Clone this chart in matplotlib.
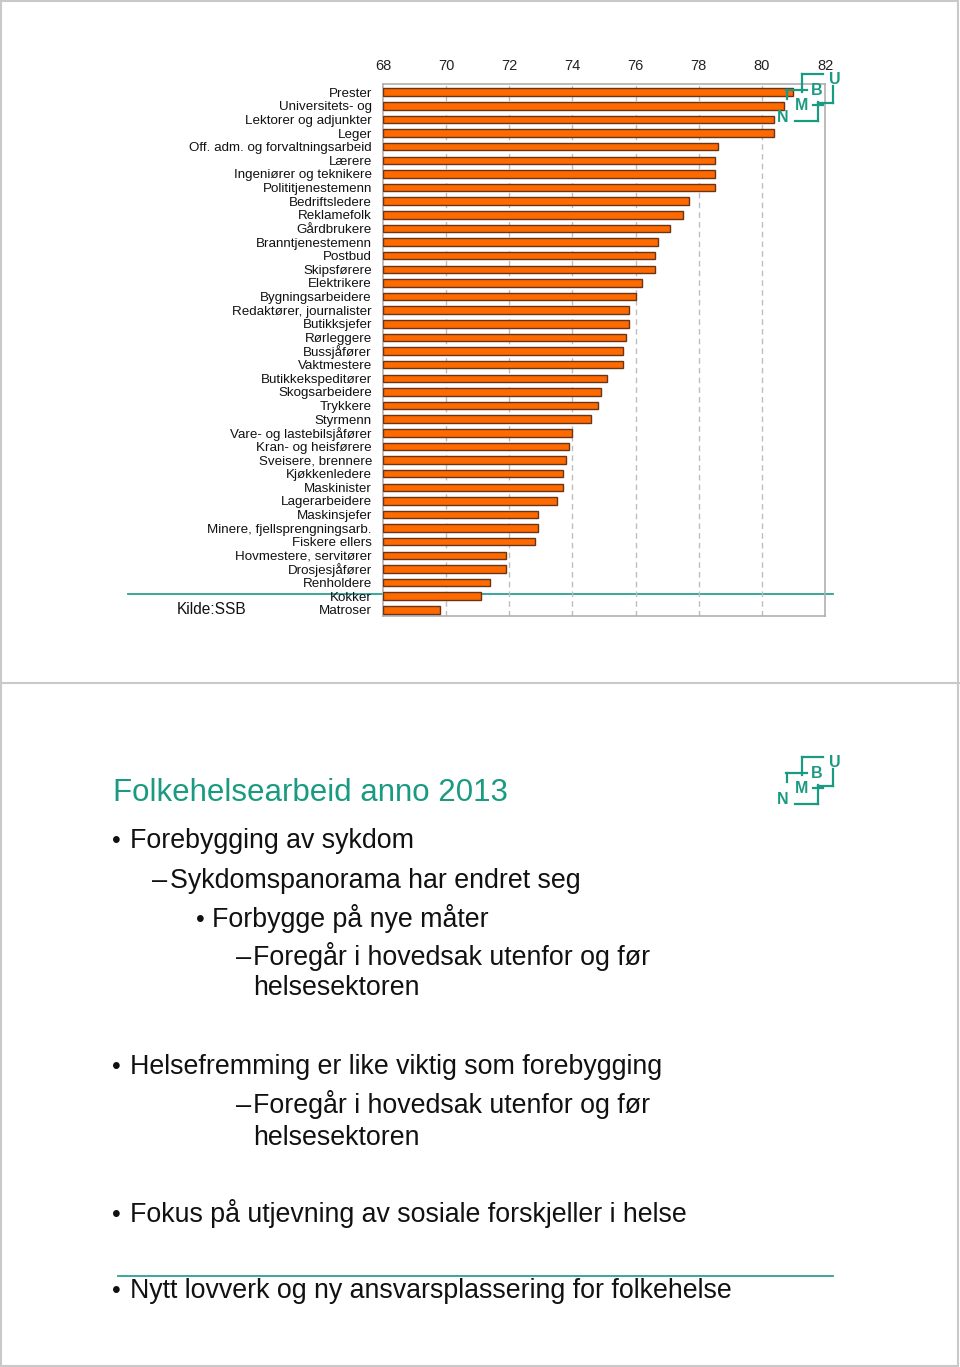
import matplotlib
matplotlib.use("Agg")
import matplotlib.pyplot as plt
from matplotlib.lines import Line2D
from matplotlib.patches import Rectangle

plt.rcParams['font.family'] = ['Liberation Sans', 'DejaVu Sans']

# ---------------- data ----------------
categories = [
    "Prester", "Universitets- og", "Lektorer og adjunkter", "Leger",
    "Off. adm. og forvaltningsarbeid", "Lærere", "Ingeniører og teknikere",
    "Polititjenestemenn", "Bedriftsledere", "Reklamefolk", "Gårdbrukere",
    "Branntjenestemenn", "Postbud", "Skipsførere", "Elektrikere",
    "Bygningsarbeidere", "Redaktører, journalister", "Butikksjefer",
    "Rørleggere", "Bussjåfører", "Vaktmestere", "Butikkekspeditører",
    "Skogsarbeidere", "Trykkere", "Styrmenn", "Vare- og lastebilsjåfører",
    "Kran- og heisførere", "Sveisere, brennere", "Kjøkkenledere",
    "Maskinister", "Lagerarbeidere", "Maskinsjefer",
    "Minere, fjellsprengningsarb.", "Fiskere ellers",
    "Hovmestere, servitører", "Drosjesjåfører", "Renholdere", "Kokker",
    "Matroser",
]
values = [
    81.0, 80.7, 80.4, 80.4, 78.6, 78.5, 78.5, 78.5, 77.7, 77.5, 77.1,
    76.7, 76.6, 76.6, 76.2, 76.0, 75.8, 75.8, 75.7, 75.6, 75.6, 75.1,
    74.9, 74.8, 74.6, 74.0, 73.9, 73.8, 73.7, 73.7, 73.5, 72.9, 72.9,
    72.8, 71.9, 71.9, 71.4, 71.1, 69.8,
]
x_ticks = [68, 70, 72, 74, 76, 78, 80, 82]
source_text = "Kilde:SSB"

slide_title = "Folkehelsearbeid anno 2013"
slide_lines = [  # (level, marker, text)
    (1, "•", "Forebygging av sykdom"),
    (2, "–", "Sykdomspanorama har endret seg"),
    (3, "•", "Forbygge på nye måter"),
    (4, "–", "Foregår i hovedsak utenfor og før"),
    (4, "", "helsesektoren"),
    (1, "•", "Helsefremming er like viktig som forebygging"),
    (4, "–", "Foregår i hovedsak utenfor og før"),
    (4, "", "helsesektoren"),
    (1, "•", "Fokus på utjevning av sosiale forskjeller i helse"),
    (1, "•", "Nytt lovverk og ny ansvarsplassering for folkehelse"),
]

# ---------------- figure ----------------
W, H = 960, 1367
fig = plt.figure(figsize=(W / 100, H / 100), dpi=100)
fig.patch.set_facecolor("white")

def fx(x):
    return x / W

def fy(y):
    return 1 - y / H

TEAL = "#1b9a82"
GRAY = "#c9c9c9"

# page borders and slide separator
fig.add_artist(Rectangle((fx(1), fy(1366)), fx(957), 1365 / H, transform=fig.transFigure,
                         fill=False, edgecolor=GRAY, lw=1.5, zorder=-5))
fig.add_artist(Line2D([fx(1), fx(959)], [fy(683), fy(683)], transform=fig.transFigure,
                      color=GRAY, lw=1.5, zorder=-5))

# teal separator lines
fig.add_artist(Line2D([fx(128), fx(833)], [fy(594), fy(594)], transform=fig.transFigure,
                      color="#2aa093", lw=1.3, zorder=-1))
fig.add_artist(Line2D([fx(118), fx(833)], [fy(1276), fy(1276)], transform=fig.transFigure,
                      color="#2aa093", lw=1.3, zorder=-1))

# ---------------- chart ----------------
ax_l, ax_r, ax_t, ax_b = 383, 825, 84, 616
ax = fig.add_axes([fx(ax_l), fy(ax_b), (ax_r - ax_l) / W, (ax_b - ax_t) / H])
ax.set_facecolor("none")
n = len(categories)
ypos = list(range(n))
base = x_ticks[0]
ax.barh(ypos, [v - base for v in values], left=base, height=0.55,
        color="#ff6a00", edgecolor="#6a3418", linewidth=1.0, zorder=3)
ax.set_xlim(x_ticks[0], x_ticks[-1])
ax.set_ylim(n - 0.55, -0.6)
ax.set_xticks(x_ticks)
ax.set_xticklabels([str(t) for t in x_ticks], fontsize=10.5)
ax.xaxis.tick_top()
ax.tick_params(axis="x", length=0, pad=8, colors="#222222")
ax.set_yticks(ypos)
ax.set_yticklabels(categories, fontsize=9.6)
ax.tick_params(axis="y", length=0, pad=8, colors="#111111")
for t in x_ticks[1:-1]:
    ax.axvline(t, color="#bdbdbd", lw=1.0, ls=(0, (4, 3)), zorder=1)
for s in ax.spines.values():
    s.set_color("#b0b0b0")
    s.set_linewidth(1.2)

fig.text(fx(212), fy(609), source_text, fontsize=11.2, ha="center", va="center", color="#111111")

# ---------------- logo ----------------
def draw_logo(dy):
    segs = [
        ((801.7, 756.7), (823.3, 756.7)),
        ((801.7, 756.7), (801.7, 775.0)),
        ((786.0, 772.7), (806.7, 772.7)),
        ((786.7, 772.7), (786.7, 781.7)),
        ((832.7, 769.3), (832.7, 786.0)),
        ((818.3, 786.0), (832.7, 786.0)),
        ((813.3, 788.3), (823.3, 788.3)),
        ((818.3, 785.0), (818.3, 804.0)),
        ((795.0, 804.0), (818.3, 804.0)),
    ]
    for (x0, y0), (x1, y1) in segs:
        fig.add_artist(Line2D([fx(x0), fx(x1)], [fy(y0 + dy), fy(y1 + dy)],
                              transform=fig.transFigure, color=TEAL, lw=1.6, zorder=5))
    for ch, (x, y) in zip("UBMN", [(835.0, 762.7), (817.0, 773.3), (801.7, 788.3), (783.0, 800.0)]):
        fig.text(fx(x), fy(y + dy), ch, fontsize=11.5, fontweight="bold", color=TEAL,
                 ha="center", va="center", zorder=6)

draw_logo(-683)
draw_logo(0)

# ---------------- slide text ----------------
fig.text(fx(113), fy(801), slide_title, fontsize=22.5, color=TEAL, ha="left", va="baseline")

marker_x = {1: 112, 2: 152, 3: 196, 4: 236}
text_x = {1: 130, 2: 170, 3: 212, 4: 253}
baselines = [848, 888, 927, 965, 995, 1074, 1113, 1145, 1222, 1298]
for (lvl, mk, txt), yb in zip(slide_lines, baselines):
    if mk:
        fig.text(fx(marker_x[lvl]), fy(yb), mk, fontsize=19.5 if mk == "–" else 18,
                 color="#111111", ha="left", va="baseline")
    fig.text(fx(text_x[lvl]), fy(yb), txt, fontsize=19.3, color="#111111",
             ha="left", va="baseline")

fig.savefig("out.png", dpi=100, facecolor="white")
